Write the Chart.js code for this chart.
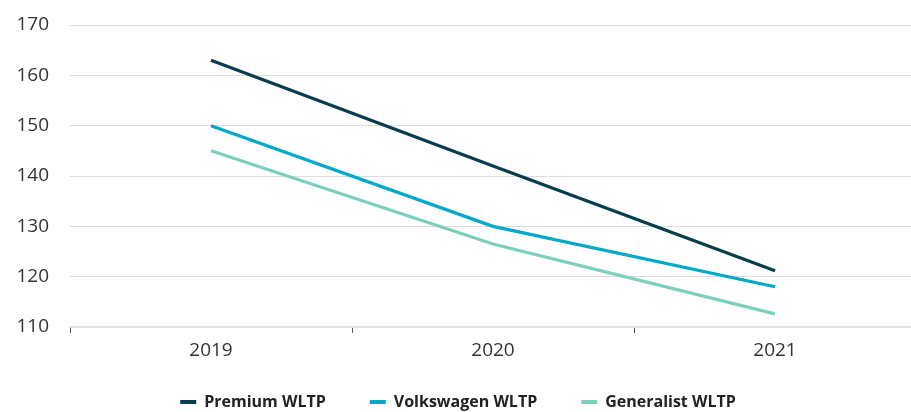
<!DOCTYPE html>
<html>
<head>
<meta charset="utf-8">
<script src="https://cdn.jsdelivr.net/npm/chart.js@4/dist/chart.umd.min.js"></script>
<style>
  html, body { margin: 0; padding: 0; background: #ffffff; overflow: hidden; }
  #wrap { position: relative; width: 916px; height: 412px; }
</style>
</head>
<body>
<div id="wrap"><canvas id="chart"></canvas></div>
<script>
// Emission trend by segment, WLTP basis
const years = ['2019', '2020', '2021'];
const premiumWLTP = [163, 142, 121.2];
const volkswagenWLTP = [150, 130, 118];
const generalistWLTP = [145, 126.5, 112.6];
const seriesNames = ['Premium WLTP', 'Volkswagen WLTP', 'Generalist WLTP'];
const yTicks = [110, 120, 130, 140, 150, 160, 170];

const colors = ['#063f4c', '#00a9c9', '#7ccfbd'];
const FONT = "'Open Sans', 'DejaVu Sans', sans-serif";

const ds = [premiumWLTP, volkswagenWLTP, generalistWLTP].map((vals, i) => ({
  label: seriesNames[i],
  data: vals,
  borderColor: colors[i],
  backgroundColor: colors[i],
  borderWidth: 3.2,
  borderCapStyle: 'butt',
  pointRadius: 0,
  pointHoverRadius: 0,
  tension: 0,
  fill: false
}));

new Chart(document.getElementById('chart'), {
  type: 'line',
  data: { labels: years, datasets: ds },
  options: {
    responsive: true,
    maintainAspectRatio: false,
    animation: false,
    layout: { padding: { top: 25, right: 0, bottom: -8, left: 0 } },
    plugins: {
      tooltip: { enabled: false },
      legend: {
        position: 'bottom',
        align: 'center',
        labels: {
          boxWidth: 16,
          boxHeight: 4,
          padding: 44,
          color: '#222222',
          font: { family: FONT, size: 16, weight: 'bold' },
          generateLabels(chart) {
            return Chart.defaults.plugins.legend.labels.generateLabels(chart).map(it => {
              it.fillStyle = it.strokeStyle;
              it.lineWidth = 0;
              return it;
            });
          }
        }
      }
    },
    scales: {
      x: {
        offset: true,
        grid: {
          offset: true,
          drawOnChartArea: false,
          drawTicks: true,
          tickLength: 6,
          tickColor: '#555555',
          tickWidth: 1
        },
        border: { display: true, color: '#e2e2e2', width: 2 },
        ticks: {
          color: '#333333',
          padding: 6,
          maxRotation: 0,
          font: { family: FONT, size: 19 }
        },
        afterFit(s) {
          // compact axis box; year labels may extend below it
          s.height = 23;
          s._computeLabelArea = () => undefined;
        }
      },
      y: {
        min: 110,
        max: 170,
        afterBuildTicks(s) { s.ticks = yTicks.map(v => ({ value: v })); },
        grid: { color: '#dddddd', lineWidth: 1, drawTicks: false },
        border: { display: false },
        ticks: {
          color: '#333333',
          padding: 21,
          font: { family: FONT, size: 19 }
        },
        afterFit(s) {
          s.width = 70;
          s.paddingTop = 12;
          s.paddingBottom = 12;
        }
      }
    }
  }
});
</script>
</body>
</html>
